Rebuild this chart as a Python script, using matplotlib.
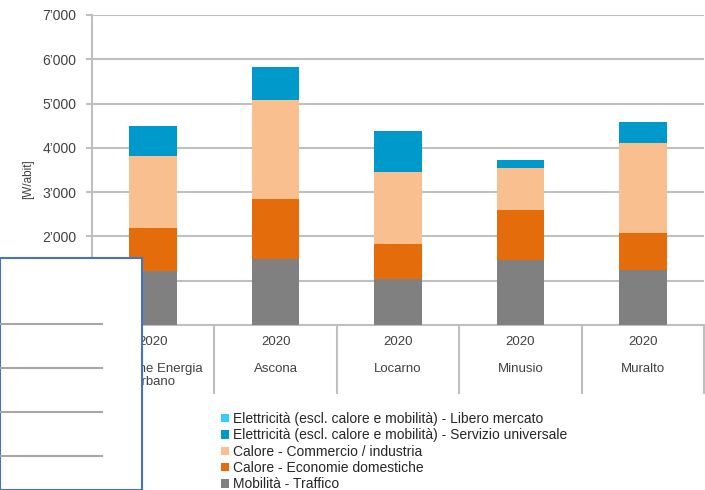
import matplotlib
matplotlib.use("Agg")
import numpy as np
import matplotlib.pyplot as plt
from matplotlib.patches import Rectangle
from matplotlib.lines import Line2D
from matplotlib.ticker import FuncFormatter, FixedLocator

plt.rcParams['font.family'] = ['Liberation Sans', 'DejaVu Sans']

# data
comuni = ["Regione Energia\nUrbano", "Ascona", "Locarno", "Minusio", "Muralto"]
anno = "2020"
mobilita = [1230, 1490, 1040, 1470, 1240]
calore_dom = [970, 1350, 790, 1130, 830]
calore_comm = [1610, 2240, 1630, 940, 2030]
el_servizio = [690, 740, 920, 180, 490]
el_libero = [0, 0, 0, 0, 0]

serie = [
    ("Mobilità - Traffico", mobilita, "#808080"),
    ("Calore - Economie domestiche", calore_dom, "#E46C0A"),
    ("Calore - Commercio / industria", calore_comm, "#F9BF8F"),
    ("Elettricità (escl. calore e mobilità) - Servizio universale", el_servizio, "#0099CC"),
    ("Elettricità (escl. calore e mobilità) - Libero mercato", el_libero, "#33CCFF"),
]

txt = "#404040"
grid_c = "#BFBFBF"

fig = plt.figure(figsize=(7.05, 4.9), dpi=100)
ax = fig.add_axes([92/705, 1 - 325/490, 612/705, 310/490])

x = np.arange(len(comuni))
bottom = np.zeros(len(comuni))
handles = []
for label, vals, col in serie:
    b = ax.bar(x, vals, width=0.39, bottom=bottom, color=col, label=label, zorder=3)
    handles.append(b)
    bottom += np.array(vals)

ax.set_xlim(-0.5, len(comuni) - 0.5)
ax.set_ylim(0, 7000)
ax.set_yticks(np.arange(0, 7001, 1000))
ax.yaxis.set_major_formatter(FuncFormatter(lambda v, p: f"{v:,.0f}".replace(",", "\u2019")))
ax.grid(axis="y", color=grid_c, lw=1.5, zorder=0)
ax.tick_params(axis="y", length=4, width=1.5, color=grid_c, pad=7, labelsize=10, labelcolor=txt)

for s in ["top", "right"]:
    ax.spines[s].set_visible(False)
ax.spines["left"].set_color(grid_c)
ax.spines["left"].set_linewidth(1.5)
ax.spines["bottom"].set_color(grid_c)
ax.spines["bottom"].set_linewidth(1.5)

# two-level category labels with separators
ax.set_xticks(x)
ax.set_xticklabels([])
ax.tick_params(axis="x", which="major", length=0)
ax.xaxis.set_minor_locator(FixedLocator(np.arange(-0.5, len(comuni), 1.0)))
ax.tick_params(axis="x", which="minor", length=50, width=1.5, color=grid_c)
tr = ax.get_xaxis_transform()
for xi, c in zip(x, comuni):
    ax.text(xi, -17/310, anno, transform=tr, ha="center", va="center",
            fontsize=9.5, color=txt)
    ax.text(xi, -38/310, c, transform=tr, ha="center", va="top",
            fontsize=9.5, color=txt, linespacing=1.1)

ax.set_ylabel("[W/abit]", fontsize=8.5, color=txt)
ax.yaxis.set_label_coords(-0.094, 0.47)

leg = fig.legend(handles=handles[::-1], loc="upper left", bbox_to_anchor=(214/705, 1 - 405/490),
                 frameon=False, fontsize=10, handlelength=0.55, handleheight=0.55,
                 handletextpad=0.3, labelspacing=0.17, borderpad=0)
for t in leg.get_texts():
    t.set_color("#262626")

# overlaid white box from the screenshot
box = Rectangle((0, 0), 142/705, 1 - 258/490, transform=fig.transFigure,
                facecolor="white", edgecolor="#4472C4", lw=1.5, zorder=10)
fig.add_artist(box)
for yy in [324, 368, 412, 456]:
    fig.add_artist(Line2D([0, 102/705], [1 - yy/490, 1 - yy/490], transform=fig.transFigure,
                          color="#A6A6A6", lw=1.5, zorder=11))

fig.savefig("out.png", dpi=100)
